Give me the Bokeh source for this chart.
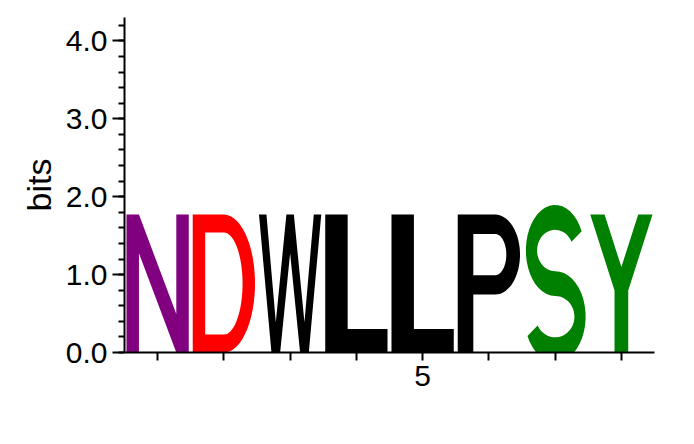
import numpy as np
from bokeh.models import FixedTicker, Label, Range1d
from bokeh.plotting import figure
from bokeh.embed import file_html
from bokeh.resources import INLINE

# sequence logo data
letters = ["N", "D", "W", "L", "L", "P", "S", "Y"]
positions = [1, 2, 3, 4, 5, 6, 7, 8]
heights = [1.77, 1.77, 1.77, 1.77, 1.77, 1.77, 1.77, 1.77]
colors = {"N": "#800080", "D": "#ff0000", "W": "#000000", "L": "#000000",
          "P": "#000000", "S": "#008000", "Y": "#008000"}
y_ticks = [0, 1, 2, 3, 4]
y_tick_labels = {0: "0.0", 1: "1.0", 2: "2.0", 3: "3.0", 4: "4.0"}


def arc(cx, cy, rx, ry, a0, a1, n=30):
    a = np.radians(np.linspace(a0, a1, n))
    return list(zip(cx + rx * np.cos(a), cy + ry * np.sin(a)))


def s_shape():
    t = 0.09
    up = (0.5, 0.74, 0.38, 0.24)
    lo = (0.5, 0.26, 0.4, 0.24)
    left = arc(up[0], up[1], up[2] - t, up[3] - t, 25, 270) + \
        arc(lo[0], lo[1], lo[2] + t, lo[3] + t, 90, -155)
    right = arc(up[0], up[1], up[2] + t, up[3] + t, 25, 270) + \
        arc(lo[0], lo[1], lo[2] - t, lo[3] - t, 90, -155)
    return [left + right[::-1]]


# letter outlines in a unit box: [outer, holes...]
shapes = {
    "N": [[(0, 0), (0.2, 0), (0.2, 0.72), (0.8, 0), (1, 0), (1, 1), (0.8, 1),
           (0.8, 0.28), (0.2, 1), (0, 1)]],
    "L": [[(0, 0), (1, 0), (1, 0.17), (0.36, 0.17), (0.36, 1), (0, 1)]],
    "W": [[(0, 1), (0.2, 0), (0.34, 0), (0.5, 0.72), (0.66, 0), (0.8, 0), (1, 1),
           (0.88, 1), (0.73, 0.22), (0.56, 1), (0.44, 1), (0.27, 0.22), (0.12, 1)]],
    "Y": [[(0, 1), (0.39, 0.45), (0.39, 0), (0.61, 0), (0.61, 0.45), (1, 1),
           (0.77, 1), (0.5, 0.62), (0.23, 1)]],
    "D": [[(0, 0), (0.5, 0)] + arc(0.5, 0.5, 0.5, 0.5, -90, 90) + [(0, 1)],
          [(0.2, 0.13), (0.5, 0.13)] + arc(0.5, 0.5, 0.3, 0.37, -90, 90) + [(0.2, 0.87)]],
    "P": [[(0, 0), (0.25, 0), (0.25, 0.42), (0.6, 0.42)] + arc(0.6, 0.71, 0.4, 0.29, -90, 90) + [(0, 1)],
          [(0.25, 0.56), (0.6, 0.56)] + arc(0.6, 0.71, 0.18, 0.15, -90, 90) + [(0.25, 0.86)]],
    "S": s_shape(),
}

xs, ys, fills = [], [], []
gap = 0.03
for let, pos, h in zip(letters, positions, heights):
    rings_x, rings_y = [], []
    for ring in shapes[let]:
        u = np.array([pt[0] for pt in ring])
        v = np.array([pt[1] for pt in ring])
        rings_x.append(list(pos - 0.5 + gap + u * (1 - 2 * gap)))
        rings_y.append(list(v * h))
    xs.append([rings_x])
    ys.append([rings_y])
    fills.append(colors[let])

p = figure(width=670, height=420, output_backend="svg", toolbar_location=None,
           x_range=Range1d(0.5, 8.5), y_range=Range1d(0, 4.3),
           min_border_left=124, min_border_right=16, min_border_top=17,
           min_border_bottom=68)
p.outline_line_color = None
p.grid.visible = False
p.background_fill_color = "white"

p.multi_polygons(xs=xs, ys=ys, fill_color=fills, line_color=None)

p.xaxis.ticker = FixedTicker(ticks=positions)
p.xaxis.major_label_overrides = {i: ("5" if i == 5 else "") for i in positions}
p.xaxis.major_tick_out = 8
p.xaxis.major_tick_in = 0
p.xaxis.minor_tick_line_color = None
p.yaxis.ticker = FixedTicker(ticks=y_ticks,
                             minor_ticks=[round(i * 0.2, 1) for i in range(22)])
p.yaxis.major_label_overrides = y_tick_labels
p.yaxis.major_tick_out = 12
p.yaxis.major_tick_in = 0
p.yaxis.minor_tick_out = 6
p.yaxis.minor_tick_in = 0
p.yaxis.axis_label = "bits"
p.yaxis.axis_label_text_font_size = "34px"
p.yaxis.axis_label_text_font_style = "normal"
p.yaxis.axis_label_text_color = "black"
for ax in (p.xaxis, p.yaxis):
    ax.axis_line_width = 2
    ax.major_tick_line_width = 2
    ax.minor_tick_line_width = 2
    ax.major_label_text_font_size = "30px"
    ax.major_label_text_font = "Liberation Sans"
    ax.axis_label_text_font = "Liberation Sans"
    ax.major_label_text_color = "black"

p.add_layout(Label(x=8.5, y=-0.9, text="WebLogo 3.7.5", text_align="right",
                   text_font="Liberation Sans", text_font_size="20px"))

open("out.html", "w").write(file_html(p, INLINE))
